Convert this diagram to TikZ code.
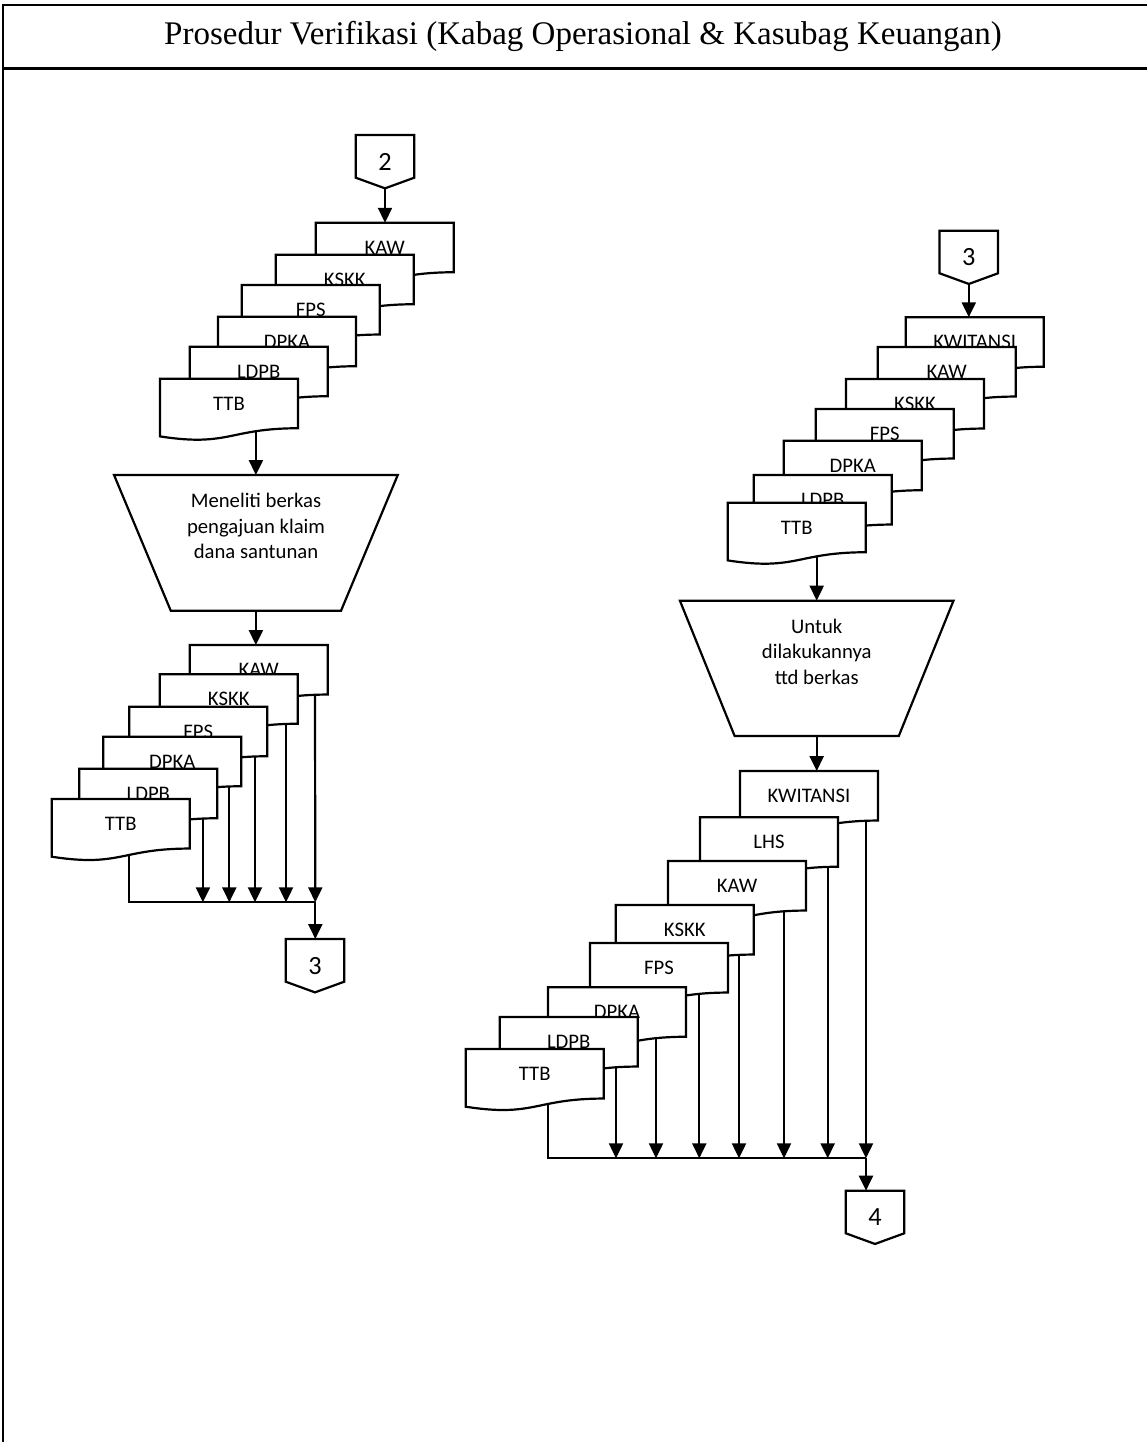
\documentclass[tikz,border=0pt]{standalone}
\usepackage{fontspec}
\setmainfont{Carlito}
\newfontfamily\ttlserif{Liberation Serif}
\usetikzlibrary{arrows.meta}

\newcommand\flowtextfont{\fontsize{20.7pt}{25.3pt}\selectfont}
\newcommand\flowconfont{\fontsize{26.3pt}{30pt}\selectfont}

\makeatletter
\newdimen\fdL \newdimen\fdR \newdimen\fdT \newdimen\fdB
\newdimen\fdM \newdimen\fdH \newdimen\fdP \newdimen\fdQ
% flowchart document: rectangle body with a wavy bottom edge below it
\pgfdeclareshape{flowdoc}{%
  \inheritsavedanchors[from=rectangle]%
  \inheritanchorborder[from=rectangle]%
  \inheritanchor[from=rectangle]{center}%
  \inheritanchor[from=rectangle]{north}%
  \inheritanchor[from=rectangle]{south}%
  \inheritanchor[from=rectangle]{east}%
  \inheritanchor[from=rectangle]{west}%
  \inheritanchor[from=rectangle]{north east}%
  \inheritanchor[from=rectangle]{north west}%
  \inheritanchor[from=rectangle]{south east}%
  \inheritanchor[from=rectangle]{south west}%
  \backgroundpath{%
    \southwest \fdL=\pgf@x \fdB=\pgf@y
    \northeast \fdR=\pgf@x \fdT=\pgf@y
    \fdM=.5\fdL \advance\fdM by .5\fdR
    \fdH=\fdT \advance\fdH by -\fdB
    \fdP=\fdT \advance\fdP by -1.1646\fdH
    \fdQ=\fdT \advance\fdQ by -1.3815\fdH
    \pgfpathmoveto{\pgfqpoint{\fdL}{\fdT}}%
    \pgfpathlineto{\pgfqpoint{\fdR}{\fdT}}%
    \pgfpathlineto{\pgfqpoint{\fdR}{\fdB}}%
    \pgfpathcurveto{\pgfqpoint{\fdM}{\fdB}}{\pgfqpoint{\fdM}{\fdQ}}{\pgfqpoint{\fdL}{\fdP}}%
    \pgfpathclose
  }%
}
% off-page connector: box with a pointed bottom
\pgfdeclareshape{offpage}{%
  \inheritsavedanchors[from=rectangle]%
  \inheritanchorborder[from=rectangle]%
  \inheritanchor[from=rectangle]{center}%
  \inheritanchor[from=rectangle]{north}%
  \inheritanchor[from=rectangle]{south}%
  \inheritanchor[from=rectangle]{east}%
  \inheritanchor[from=rectangle]{west}%
  \backgroundpath{%
    \southwest \fdL=\pgf@x \fdB=\pgf@y
    \northeast \fdR=\pgf@x \fdT=\pgf@y
    \fdM=.5\fdL \advance\fdM by .5\fdR
    \fdH=\fdT \advance\fdH by -\fdB
    \fdP=\fdT \advance\fdP by -0.8\fdH
    \pgfpathmoveto{\pgfqpoint{\fdL}{\fdT}}%
    \pgfpathlineto{\pgfqpoint{\fdR}{\fdT}}%
    \pgfpathlineto{\pgfqpoint{\fdR}{\fdP}}%
    \pgfpathlineto{\pgfqpoint{\fdM}{\fdB}}%
    \pgfpathlineto{\pgfqpoint{\fdL}{\fdP}}%
    \pgfpathclose
  }%
}
% manual operation: trapezium, wide side on top
\pgfdeclareshape{manualop}{%
  \inheritsavedanchors[from=rectangle]%
  \inheritanchorborder[from=rectangle]%
  \inheritanchor[from=rectangle]{center}%
  \inheritanchor[from=rectangle]{north}%
  \inheritanchor[from=rectangle]{south}%
  \inheritanchor[from=rectangle]{east}%
  \inheritanchor[from=rectangle]{west}%
  \backgroundpath{%
    \southwest \fdL=\pgf@x \fdB=\pgf@y
    \northeast \fdR=\pgf@x \fdT=\pgf@y
    \fdH=\fdR \advance\fdH by -\fdL
    \fdP=\fdL \advance\fdP by 0.2\fdH
    \fdQ=\fdR \advance\fdQ by -0.2\fdH
    \pgfpathmoveto{\pgfqpoint{\fdL}{\fdT}}%
    \pgfpathlineto{\pgfqpoint{\fdR}{\fdT}}%
    \pgfpathlineto{\pgfqpoint{\fdQ}{\fdB}}%
    \pgfpathlineto{\pgfqpoint{\fdP}{\fdB}}%
    \pgfpathclose
  }%
}
\makeatother

\pgfdeclarelayer{wires}
\pgfsetlayers{wires,main}

\tikzset{
  shapebase/.style={draw, line width=2.2pt, fill=white, inner sep=0pt, outer sep=0pt},
  docnode/.style={shapebase, shape=flowdoc, minimum width=138pt, minimum height=49.5pt, font=\flowtextfont},
  pagecon/.style={shapebase, shape=offpage, minimum width=58.5pt, minimum height=53.3pt, font=\flowconfont},
  manop/.style={shapebase, shape=manualop},
  optext/.style={align=center, font=\flowtextfont, inner sep=0pt},
  arr/.style={line width=2.2pt, -{Triangle[length=15pt,width=14pt]}},
  wire/.style={line width=2.2pt},
}

\begin{document}
\begin{tikzpicture}[x=1pt, y=-1pt]
\useasboundingbox (0,0) rectangle (1147,1442);

% frame and title
\draw[line width=2.5pt] (3,5) -- (1147,5);
\draw[line width=2.7pt] (3,68.5) -- (1147,68.5);
\draw[line width=1.3pt] (3,4) -- (3,1442);
\node[anchor=base, inner sep=0pt, font={\ttlserif\fontsize{33pt}{40pt}\selectfont}] (title) at (583,45)
  {Prosedur Verifikasi (Kabag Operasional \& Kasubag Keuangan)};

% ---- left column ----
\node[pagecon, minimum width=58.6pt] (c2) at (385,161.7) {2};
\node[docnode] (kawA)  at (384.7,247.5) {KAW};
\node[docnode] (kskkA) at (344.7,279.5) {KSKK};
\node[docnode] (fpsA)  at (310.7,309.8) {FPS};
\node[docnode] (dpkaA) at (287,341.5)   {DPKA};
\node[docnode] (ldpbA) at (258.7,371.5) {LDPB};
\node[docnode] (ttbA)  at (229,403.5)   {TTB};

\node[manop, minimum width=283.7pt, minimum height=135.7pt] (opA) at (255.9,542.9) {};
\node[optext] (opAtext) at (256,526) {Meneliti berkas\\pengajuan klaim\\dana santunan};

\node[docnode] (kawB)  at (258.7,669.8) {KAW};
\node[docnode] (kskkB) at (228.7,699)   {KSKK};
\node[docnode] (fpsB)  at (198.3,731.5) {FPS};
\node[docnode] (dpkaB) at (172.3,761.5) {DPKA};
\node[docnode] (ldpbB) at (148.3,793.5) {LDPB};
\node[docnode] (ttbB)  at (120.7,823.8) {TTB};
\coordinate (jB) at (315.3,902.3);
\node[pagecon] (c3a) at (315,965.7) {3};

% ---- right column ----
\node[pagecon] (c3b) at (968.8,257.3) {3};
\node[docnode] (kwiC)  at (974.7,342)   {KWITANSI};
\node[docnode] (kawC)  at (946.7,371.8) {KAW};
\node[docnode] (kskkC) at (915,403.8)   {KSKK};
\node[docnode] (fpsC)  at (884.7,433.8) {FPS};
\node[docnode] (dpkaC) at (852.7,465.5) {DPKA};
\node[docnode] (ldpbC) at (822.7,499.8) {LDPB};
\node[docnode] (ttbC)  at (796.7,527.5) {TTB};

\node[manop, minimum width=273.6pt, minimum height=135.3pt] (opB) at (816.7,668.3) {};
\node[optext] (opBtext) at (816.7,651.7) {Untuk\\dilakukannya\\ttd berkas};

\node[docnode] (kwiD)  at (809,795.8)   {KWITANSI};
\node[docnode] (lhsD)  at (769,842)     {LHS};
\node[docnode] (kawD)  at (737,885.8)   {KAW};
\node[docnode] (kskkD) at (684.7,929.8) {KSKK};
\node[docnode] (fpsD)  at (659,967.8)   {FPS};
\node[docnode] (dpkaD) at (617,1012)    {DPKA};
\node[docnode] (ldpbD) at (568.7,1041.8){LDPB};
\node[docnode] (ttbD)  at (534.7,1073.8){TTB};
\coordinate (jD) at (866,1158.3);
\node[pagecon] (c4) at (875,1217.3) {4};

% ---- connectors ----
\begin{pgfonlayer}{wires}
\draw[arr] (c2.south) -- (c2.south |- kawA.north);
\draw[arr] (opA.north |- ttbA.south) -- (opA.north);
\draw[arr] (opA.south) -- (opA.south |- kawB.north);
\draw[arr] ([xshift=-14.4pt]ldpbB.south east) -- ([xshift=-14.4pt]ldpbB.south east |- jB);
\draw[arr] ([xshift=-12pt]dpkaB.south east) -- ([xshift=-12pt]dpkaB.south east |- jB);
\draw[arr] ([xshift=-12.3pt]fpsB.south east) -- ([xshift=-12.3pt]fpsB.south east |- jB);
\draw[arr] ([xshift=-11.7pt]kskkB.south east) -- ([xshift=-11.7pt]kskkB.south east |- jB);
\draw[arr] ([xshift=-12.7pt]kawB.south east) -- (jB);
\draw[wire] ([xshift=8.6pt]ttbB.south) |- (jB);
\draw[arr] (jB) -- (jB |- c3a.north);

\draw[arr] (c3b.south) -- (c3b.south |- kwiC.north);
\draw[arr] (opB.north |- ttbC.south) -- (opB.north);
\draw[arr] (opB.south) -- (opB.south |- kwiD.north);
\draw[arr] ([xshift=-21.7pt]ldpbD.south east) -- ([xshift=-21.7pt]ldpbD.south east |- jD);
\draw[arr] ([xshift=-30pt]dpkaD.south east) -- ([xshift=-30pt]dpkaD.south east |- jD);
\draw[arr] ([xshift=-28.7pt]fpsD.south east) -- ([xshift=-28.7pt]fpsD.south east |- jD);
\draw[arr] ([xshift=-14.7pt]kskkD.south east) -- ([xshift=-14.7pt]kskkD.south east |- jD);
\draw[arr] ([xshift=-22pt]kawD.south east) -- ([xshift=-22pt]kawD.south east |- jD);
\draw[arr] ([xshift=-10.3pt]lhsD.south east) -- ([xshift=-10.3pt]lhsD.south east |- jD);
\draw[arr] ([xshift=-12pt]kwiD.south east) -- (jD);
\draw[wire] ([xshift=13pt]ttbD.south) |- (jD);
\draw[arr] (jD) -- (jD |- c4.north);
\end{pgfonlayer}
\end{tikzpicture}
\end{document}
